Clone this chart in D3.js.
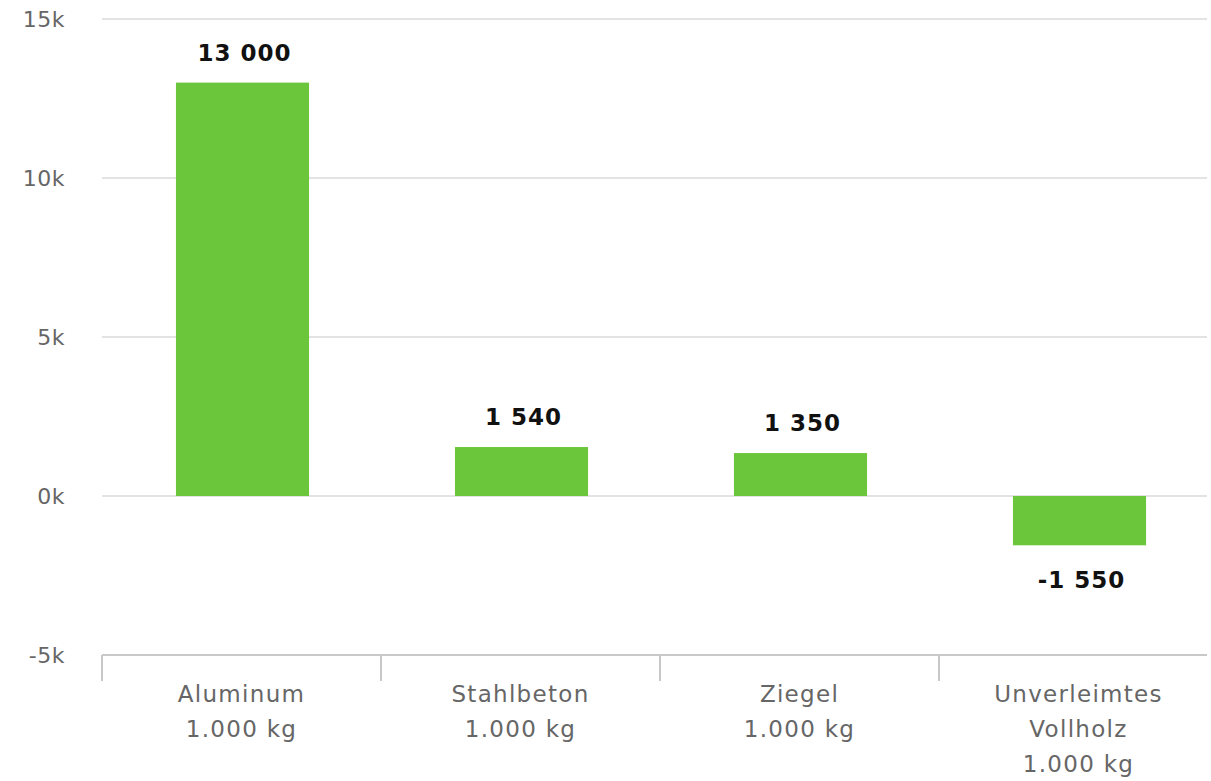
<!DOCTYPE html>
<html>
<head>
<meta charset="utf-8">
<script src="https://cdn.jsdelivr.net/npm/d3@7/dist/d3.min.js"></script>
<style>
  html, body { margin: 0; padding: 0; background: #fff; }
  svg { display: block; font-family: "DejaVu Sans", Verdana, sans-serif; }
</style>
</head>
<body>
<svg id="chart" width="1211" height="781"></svg>
<script>
const categories = [
  ["Aluminum", "1.000 kg"],
  ["Stahlbeton", "1.000 kg"],
  ["Ziegel", "1.000 kg"],
  ["Unverleimtes", "Vollholz", "1.000 kg"]
];
const values = [13000, 1540, 1350, -1550];
const yTicks = [-5000, 0, 5000, 10000, 15000];
const yTickLabels = ["-5k", "0k", "5k", "10k", "15k"];

(function () {
const svg = d3.select("#chart");
const mLeft = 102, mRight = 1218, mTop = 19, mBottom = 655, gridEnd = 1207;

const x = d3.scaleBand().domain(d3.range(categories.length)).range([mLeft, mRight]).padding(0);
const y = d3.scaleLinear().domain([-5000, 15000]).range([mBottom, mTop]);

const fmt = v => (v < 0 ? "-" : "") + d3.format(",")(Math.abs(v)).replace(/,/g, " ");

// gridlines
svg.append("g").selectAll("line").data(yTicks.filter(t => t !== -5000)).join("line")
  .attr("x1", mLeft).attr("x2", gridEnd)
  .attr("y1", d => y(d)).attr("y2", d => y(d))
  .attr("stroke", "#e3e3e3").attr("stroke-width", 2);

// y labels
svg.append("g").selectAll("text").data(yTicks).join("text")
  .attr("x", 65).attr("y", d => y(d)).attr("dy", "0.36em")
  .attr("text-anchor", "end").attr("font-size", 22).attr("fill", "#666")
  .attr("letter-spacing", 0.5)
  .text((d, i) => yTickLabels[i]);

// x axis line
svg.append("line").attr("x1", mLeft).attr("x2", gridEnd)
  .attr("y1", mBottom).attr("y2", mBottom)
  .attr("stroke", "#c8c8c8").attr("stroke-width", 2);

// x ticks at band boundaries
svg.append("g").selectAll("line").data(d3.range(categories.length)).join("line")
  .attr("x1", d => x(d)).attr("x2", d => x(d))
  .attr("y1", mBottom).attr("y2", mBottom + 26)
  .attr("stroke", "#c8c8c8").attr("stroke-width", 2);

// x labels
const xl = svg.append("g").selectAll("text").data(categories).join("text")
  .attr("x", (d, i) => x(i) + x.bandwidth() / 2)
  .attr("y", 702)
  .attr("text-anchor", "middle").attr("font-size", 23).attr("fill", "#666")
  .attr("letter-spacing", 1.3);
xl.selectAll("tspan").data(d => d).join("tspan")
  .attr("x", function() { return this.parentNode.getAttribute("x"); })
  .attr("dy", (d, i) => i === 0 ? 0 : 35)
  .text(d => d);

// bars
const bw = x.bandwidth() * 0.477;
svg.append("g").selectAll("rect").data(values).join("rect")
  .attr("x", (d, i) => x(i) + x.bandwidth() / 2 - bw / 2 + 1)
  .attr("width", bw)
  .attr("y", d => y(Math.max(0, d)))
  .attr("height", d => Math.abs(y(d) - y(0)))
  .attr("fill", "#6cc63c");

// data labels
svg.append("g").selectAll("text").data(values).join("text")
  .attr("x", (d, i) => x(i) + x.bandwidth() / 2 + 3)
  .attr("y", d => d >= 0 ? y(d) - 22 : y(d) + 43)
  .attr("text-anchor", "middle").attr("font-size", 23).attr("font-weight", "bold")
  .attr("letter-spacing", 1)
  .attr("fill", "#111")
  .text(d => fmt(d));
})();
</script>
</body>
</html>
